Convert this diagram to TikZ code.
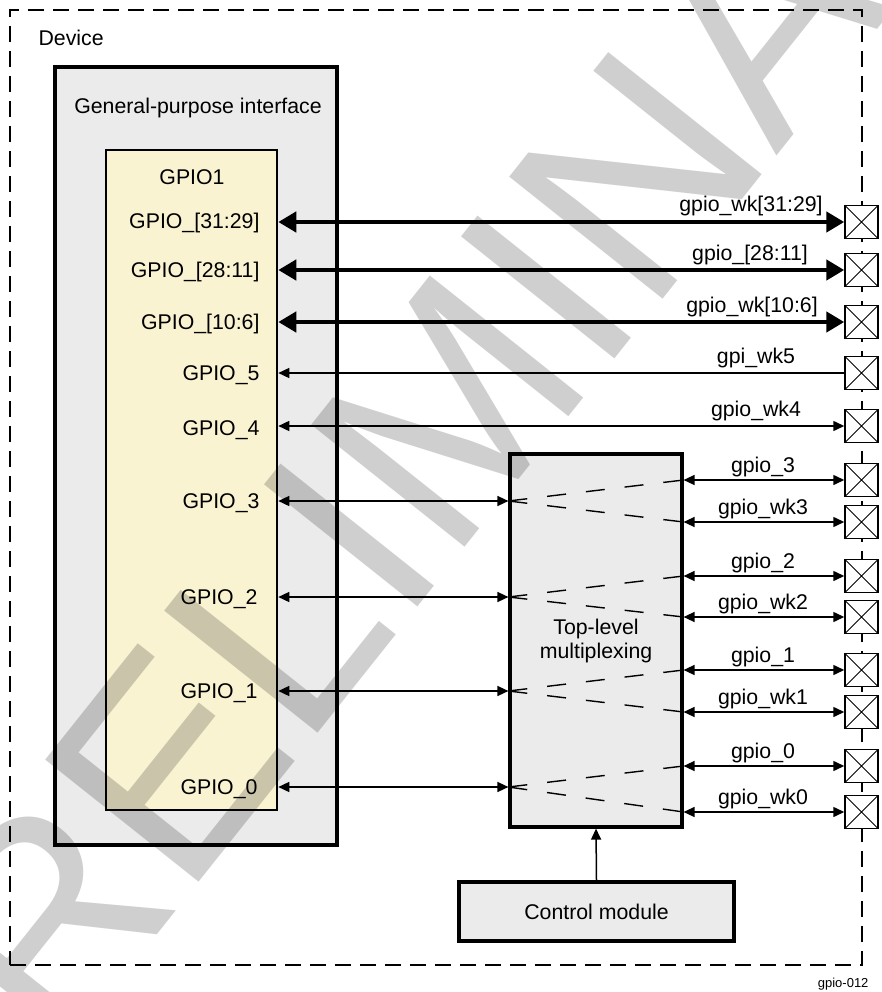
\documentclass[tikz,border=0pt]{standalone}
\usepackage{fontspec}
\setmainfont{Liberation Sans}
\usetikzlibrary{arrows.meta}
\definecolor{boxgray}{RGB}{235,235,235}
\definecolor{gpioyellow}{RGB}{249,243,210}
\begin{document}
\begin{tikzpicture}[
        x=1pt, y=-1pt,
        every node/.style={font=\fontsize{21.3}{24}\selectfont},
        devbox/.style={
          draw,
          line width=2.4pt,
          dash pattern=on 16pt off 9pt,
          inner sep=0pt
        },
        block/.style={
          draw,
          line width=3.2pt,
          fill=boxgray,
          align=center,
          inner sep=0pt
        },
        pad/.style={
          draw,
          line width=1.5pt,
          fill=white,
          minimum size=33pt,
          inner sep=0pt,
          path picture={
            \draw[line width=1pt]
              (path picture bounding box.north west) -- (path picture bounding box.south east)
              (path picture bounding box.north east) -- (path picture bounding box.south west);
          }
        },
        bus/.style={line width=4.5pt,
          {Triangle[length=18pt,width=20pt]}-{Triangle[length=18pt,width=20pt]}},
        sig/.style={line width=1.5pt,
          {Triangle[length=11pt,width=10pt]}-{Triangle[length=11pt,width=10pt]}},
        sigin/.style={line width=1.5pt, -{Triangle[length=11pt,width=10pt]}},
        mline/.style={line width=1.4pt, dash pattern=on 19pt off 20pt}
      ]
      \useasboundingbox (0,0) rectangle (881,992);

      % boxes
      \node[devbox, minimum width=852pt, minimum height=955pt] (device) at (436,487.5) {};
      \node[anchor=base west] (devlabel) at (35,46) {Device};
      \node[block, minimum width=282pt, minimum height=778pt] (gpi) at (196,456) {};
      \node[anchor=base] (gpititle) at (198,114) {General-purpose interface};
      \node[block, fill=gpioyellow, line width=2.6pt, minimum width=171pt, minimum height=660pt]
        (gpio) at (191.5,480) {};
      \node[anchor=base] (gpiotitle) at (192,185) {GPIO1};
      \node[block, minimum width=172pt, minimum height=373pt] (mux) at (596,640.5)
        {Top-level\\multiplexing};
      \node[block, minimum width=275pt, minimum height=59pt] (ctrl) at (596.5,911.5)
        {Control module};
      \node[anchor=base east, font=\fontsize{13}{15}\selectfont] (figid) at (872,987) {gpio-012};

      % GPIO1 pins
      \node[anchor=base east] (l31) at (263,229) {GPIO\_[31:29]};
      \node[anchor=base east] (l28) at (263,277) {GPIO\_[28:11]};
      \node[anchor=base east] (l10) at (263,329) {GPIO\_[10:6]};
      \node[anchor=base east] (l5) at (263,380) {GPIO\_5};
      \node[anchor=base east] (l4) at (263,435) {GPIO\_4};
      \node[anchor=base east] (l3) at (263,508) {GPIO\_3};
      \node[anchor=base east] (l2) at (261,604) {GPIO\_2};
      \node[anchor=base east] (l1) at (261,698) {GPIO\_1};
      \node[anchor=base east] (l0) at (261,794) {GPIO\_0};
      \coordinate (r3) at (0,501);
      \coordinate (r2) at (0,597);
      \coordinate (r1) at (0,691);
      \coordinate (r0) at (0,787);

      % pads
      \node[pad] (pad31) at (861.5,222) {};
      \node[pad] (pad28) at (861.5,270) {};
      \node[pad] (pad10) at (861.5,322) {};
      \node[pad] (pad5) at (861.5,373) {};
      \node[pad] (pad4) at (861.5,426) {};
      \node[pad] (pad3) at (861.5,480) {};
      \node[pad] (padwk3) at (861.5,522) {};
      \node[pad] (pad2) at (861.5,576) {};
      \node[pad] (padwk2) at (861.5,617) {};
      \node[pad] (pad1) at (861.5,670) {};
      \node[pad] (padwk1) at (861.5,712) {};
      \node[pad] (pad0) at (861.5,766) {};
      \node[pad] (padwk0) at (861.5,812) {};

      % pad labels
      \node[anchor=base] (n31) at (751,212) {gpio\_wk[31:29]};
      \node[anchor=base] (n28) at (750,260) {gpio\_[28:11]};
      \node[anchor=base] (n10) at (752,312) {gpio\_wk[10:6]};
      \node[anchor=base] (n5) at (756,363) {gpi\_wk5};
      \node[anchor=base] (n4) at (756,416) {gpio\_wk4};
      \node[anchor=base] (n3) at (763,472) {gpio\_3};
      \node[anchor=base] (nwk3) at (763,514) {gpio\_wk3};
      \node[anchor=base] (n2) at (763,568) {gpio\_2};
      \node[anchor=base] (nwk2) at (763,609) {gpio\_wk2};
      \node[anchor=base] (n1) at (763,662) {gpio\_1};
      \node[anchor=base] (nwk1) at (763,704) {gpio\_wk1};
      \node[anchor=base] (n0) at (763,758) {gpio\_0};
      \node[anchor=base] (nwk0) at (763,804) {gpio\_wk0};

      % direct connections
      \draw[bus] (gpio.east |- pad31.west) -- (pad31.west);
      \draw[bus] (gpio.east |- pad28.west) -- (pad28.west);
      \draw[bus] (gpio.east |- pad10.west) -- (pad10.west);
      \draw[sigin] (pad5.west) -- (gpio.east |- pad5.west);
      \draw[sig] (gpio.east |- pad4.west) -- (pad4.west);

      % through the multiplexer
      \draw[sig] (gpio.east |- r3) -- (mux.west |- r3);
      \draw[sig] (gpio.east |- r2) -- (mux.west |- r2);
      \draw[sig] (gpio.east |- r1) -- (mux.west |- r1);
      \draw[sig] (gpio.east |- r0) -- (mux.west |- r0);
      \draw[mline] (mux.west |- r3) -- (mux.east |- pad3.west);
      \draw[mline] (mux.west |- r3) -- (mux.east |- padwk3.west);
      \draw[mline] (mux.west |- r2) -- (mux.east |- pad2.west);
      \draw[mline] (mux.west |- r2) -- (mux.east |- padwk2.west);
      \draw[mline] (mux.west |- r1) -- (mux.east |- pad1.west);
      \draw[mline] (mux.west |- r1) -- (mux.east |- padwk1.west);
      \draw[mline] (mux.west |- r0) -- (mux.east |- pad0.west);
      \draw[mline] (mux.west |- r0) -- (mux.east |- padwk0.west);
      \draw[sig] (mux.east |- pad3.west) -- (pad3.west);
      \draw[sig] (mux.east |- padwk3.west) -- (padwk3.west);
      \draw[sig] (mux.east |- pad2.west) -- (pad2.west);
      \draw[sig] (mux.east |- padwk2.west) -- (padwk2.west);
      \draw[sig] (mux.east |- pad1.west) -- (pad1.west);
      \draw[sig] (mux.east |- padwk1.west) -- (padwk1.west);
      \draw[sig] (mux.east |- pad0.west) -- (pad0.west);
      \draw[sig] (mux.east |- padwk0.west) -- (padwk0.west);
      \draw[sigin] (ctrl.north) -- (mux.south);

      % watermark
      \node[rotate=51.5, anchor=base, text=black, text opacity=0.19, inner sep=0pt,
        font=\fontsize{285}{285}\selectfont] (wmark) at (538,456) {PRELIMINARY};
    \end{tikzpicture}
\end{document}
